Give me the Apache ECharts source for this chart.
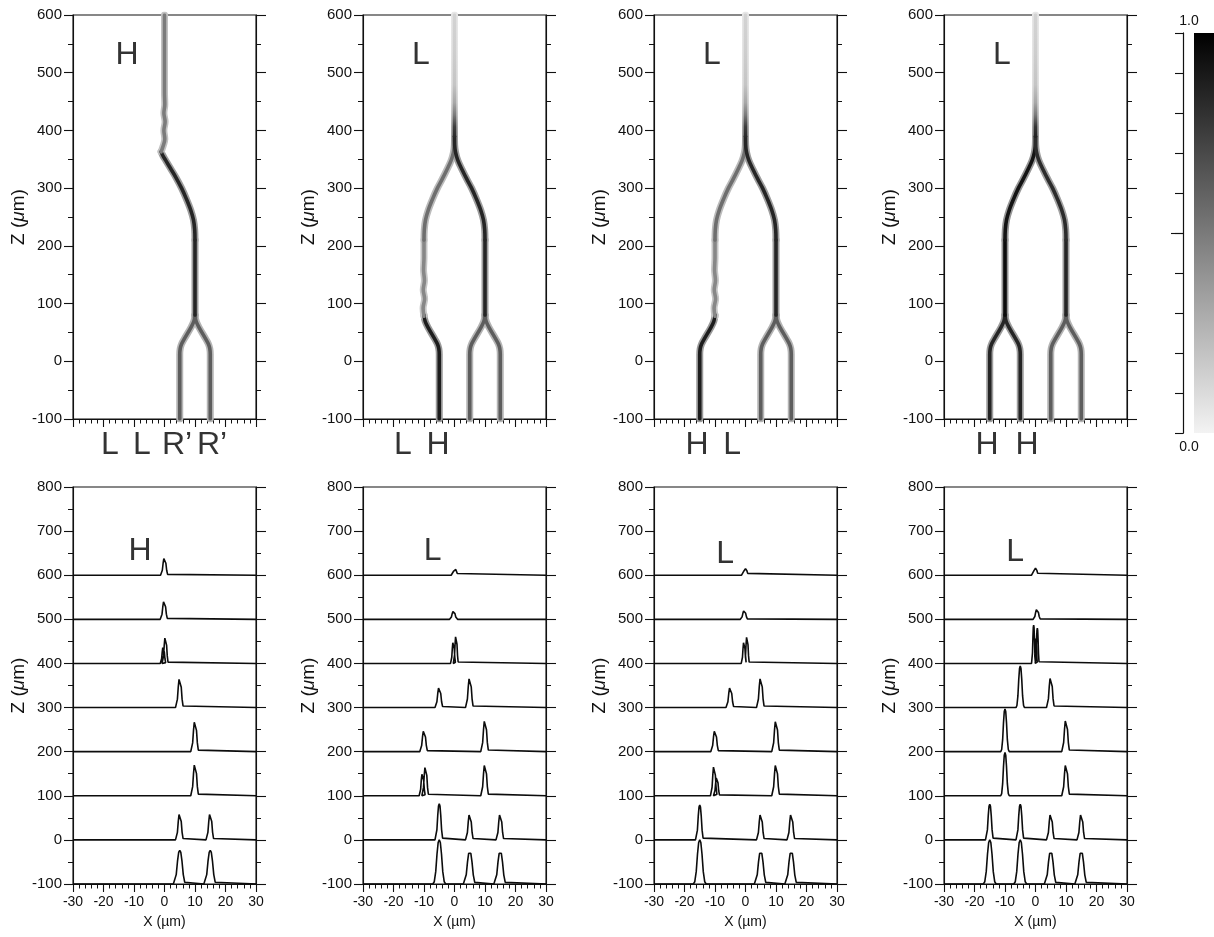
<!DOCTYPE html>
<html><head><meta charset="utf-8">
<script src="https://cdn.jsdelivr.net/npm/echarts@6/dist/echarts.min.js"></script>
<style>html,body{margin:0;padding:0;background:#fff}#c{width:1214px;height:937px}</style>
</head><body><div id="c"></div>
<script>
// ---------------- DATA ----------------
const X_MIN = -30, X_MAX = 30, X_STEP = 10;
const topZMin = -100, topZMax = 600;
const botZMin = -100, botZMax = 800;
const zStep = 100;
const profileBaselines = [-100, 0, 100, 200, 300, 400, 500, 600];

// waveguide centre-lines: [x (µm), z (µm)]
const armA = [[5,-100],[5,12],[5.15,22],[5.6,30],[6.4,38],[8.6,58],[9.6,69],[10,80]];
const armB = [[15,-100],[15,12],[14.85,22],[14.4,30],[13.6,38],[11.4,58],[10.4,69],[10,80]];
const armC = [[-5,-100],[-5,12],[-5.15,22],[-5.6,30],[-6.4,38],[-8.6,58],[-9.6,69],[-10,80]];
const armD = [[-15,-100],[-15,12],[-14.85,22],[-14.4,30],[-13.6,38],[-11.4,58],[-10.4,69],[-10,80]];
const midR = [[10,80],[10,130],[10,210]];
const midL = [[-10,80],[-10,130],[-10,210]];
const midLwavy = [[-10,78],[-10.3,92],[-9.8,108],[-10.25,124],[-9.85,140],[-10.15,158],[-10,180],[-10,210]];
const sBendR = [[10,210],[9.9,228],[9.5,245],[8.6,262],[7.2,281],[5.6,300],[4,316],[2.5,332],[1.1,348],[0.35,362],[0.05,375],[0,390]];
const sBendL = [[-10,210],[-9.9,228],[-9.5,245],[-8.6,262],[-7.2,281],[-5.6,300],[-4,316],[-2.5,332],[-1.1,348],[-0.35,362],[-0.05,375],[0,390]];
const sBendR1 = [[10,210],[9.9,228],[9.5,245],[8.6,262],[7.2,281],[5.6,300],[3.8,318],[2,334],[0.4,348],[-0.6,357],[-1.1,363]];
const outGuide = [[0,390],[0,410],[0,430],[0,450],[0,480],[0,540],[0,600]];
const outGuide1 = [[-1.1,363],[-0.5,372],[0.1,385],[-0.2,400],[0.2,415],[-0.2,430],[0.1,445],[0,465],[0,530],[0,600]];

// intensity (0..1) along each guide, per panel: [path, intensity (number or one value per point)]
const guidesP1 = [
  [armA, 0.62], [armB, 0.62], [midR, 0.85], [sBendR1, 0.85], [outGuide1, 0.5]
];
const guidesP2 = [
  [armC, 0.88], [midLwavy, 0.45], [sBendL, 0.55],
  [armA, 0.62], [armB, 0.62], [midR, 0.85], [sBendR, 0.85],
  [outGuide, [0.85,0.75,0.5,0.32,0.2,0.16,0.14]]
];
const guidesP3 = [
  [armD, 0.88], [midLwavy, 0.45], [sBendL, 0.55],
  [armA, 0.62], [armB, 0.62], [midR, 0.85], [sBendR, 0.85],
  [outGuide, [0.85,0.75,0.5,0.32,0.2,0.16,0.14]]
];
const guidesP4 = [
  [armC, 0.85], [armD, 0.85], [midL, 0.95], [sBendL, 0.92],
  [armA, 0.62], [armB, 0.62], [midR, 0.85], [sBendR, 0.82],
  [outGuide, [0.88,0.78,0.5,0.32,0.2,0.16,0.14]]
];

// intensity profiles, bottom row: per baseline, peaks [centre x, height (z units), half base width]
const profP1 = [
  [[5,76,2.1],[15,76,2.1]],
  [[5,61,1.4],[15,61,1.4]],
  [[10,74,1.4]],
  [[10,71,1.4]],
  [[5,68,1.4]],
  [[-0.4,38,1.0],[0.3,61,1.1]],
  [[-0.1,42,1.3]],
  [[0,40,1.3]]
];
const profP2 = [
  [[-5,100,2.1],[5,74,2.1],[15,74,2.1]],
  [[-5,82,1.4],[5,60,1.4],[15,60,1.4]],
  [[-10.5,52,1.1],[-9.5,68,1.2],[10,73,1.4]],
  [[-10,49,1.4],[10,73,1.4]],
  [[-5,47,1.4],[5,69,1.4]],
  [[-0.4,50,0.9],[0.5,64,0.9]],
  [[-0.3,19,1.3]],
  [[0.2,14,1.3]]
];
const profP3 = [
  [[-15,100,2.1],[5,74,2.1],[15,74,2.1]],
  [[-15,79,1.4],[5,60,1.4],[15,60,1.4]],
  [[-10.3,69,1.2],[-9.4,43,1.1],[10,73,1.4]],
  [[-10,49,1.4],[10,72,1.4]],
  [[-5,47,1.4],[5,69,1.4]],
  [[-0.5,50,0.9],[0.5,63,0.9]],
  [[-0.4,20,1.3]],
  [[0,15,1.3]]
];
const profP4 = [
  [[-15,100,2.1],[-5,100,2.1],[5,74,2.1],[15,74,2.1]],
  [[-15,81,1.4],[-5,81,1.4],[5,60,1.4],[15,60,1.4]],
  [[-10,98,1.4],[10,73,1.4]],
  [[-10,97,1.4],[10,74,1.4]],
  [[-5,94,1.4],[5,70,1.4]],
  [[-0.6,87,0.7],[0.1,60,0.6],[0.6,80,0.7]],
  [[0.5,23,1.3]],
  [[0,16,1.3]]
];
// peak outline: offsets (in half widths) and relative heights
const peakDx  = [-1, -0.78, -0.55, -0.35, -0.17, 0, 0.17, 0.35, 0.55, 0.78, 1];
const peakRel = [0, 0.05, 0.28, 0.68, 0.94, 1, 0.94, 0.68, 0.28, 0.05, 0];

// text labels
const topInputLabels = [
  [['L',-17.9],['L',-7.4],['R’',4.1],['R’',15.6]],
  [['L',-16.9],['H',-5.4]],
  [['H',-15.9],['L',-4.4]],
  [['H',-15.9],['H',-2.8]]
];
const topInputLabelZ = -145;
const topOutLabels = [['H',-12.3,531],['L',-11,530],['L',-11,530],['L',-11,530]];
const botOutLabels = [['H',-8,655],['L',-7.2,655],['L',-6.7,648],['L',-6.7,652]];
const colorbarMin = 0, colorbarMax = 1, colorbarStep = 0.1;
const colorbarLabels = ['0.0', '1.0'];

// ---------------- CHART ----------------
const FONT = "'Liberation Sans', Arial, Helvetica, sans-serif";
const INK = '#111';
const LEFTS = [73, 363, 654, 944], PW = 183;
const ROWS = [{top: 15, h: 404}, {top: 487, h: 397}];
const allGuides = [guidesP1, guidesP2, guidesP3, guidesP4];
const allProfiles = [profP1, profP2, profP3, profP4];

function gray(I) { const v = Math.round(245 * (1 - I)); return 'rgb(' + v + ',' + v + ',' + v + ')'; }

const grids = [], xAxes = [], yAxes = [], series = [];
const lineStyle = {color: INK, width: 1.1};

for (let r = 0; r < 2; r++) for (let c = 0; c < 4; c++) {
  const gi = r * 4 + c;
  grids.push({left: LEFTS[c], top: ROWS[r].top, width: PW, height: ROWS[r].h,
    show: true, borderColor: INK, borderWidth: 1.1, backgroundColor: 'transparent'});
  xAxes.push({gridIndex: gi, type: 'value', min: X_MIN, max: X_MAX, interval: X_STEP, position: 'bottom',
    axisLine: {show: true, onZero: false, lineStyle},
    axisTick: {show: true, inside: false, length: 8, lineStyle},
    minorTick: {show: true, splitNumber: 5, length: 4.5, lineStyle: {color: INK, width: 1}},
    axisLabel: {show: r === 1, fontSize: 14, color: INK, margin: 11, fontFamily: FONT},
    splitLine: {show: false}, minorSplitLine: {show: false},
    name: r === 1 ? 'X (µm)' : '', nameLocation: 'middle', nameGap: 31,
    nameTextStyle: {fontSize: 14, color: INK, fontFamily: FONT}});
  const zmin = r === 0 ? topZMin : botZMin, zmax = r === 0 ? topZMax : botZMax;
  yAxes.push({gridIndex: gi, type: 'value', min: zmin, max: zmax, interval: zStep, position: 'left',
    axisLine: {show: true, onZero: false, lineStyle},
    axisTick: {show: true, inside: false, length: 9, lineStyle},
    minorTick: {show: true, splitNumber: 2, length: 5, lineStyle: {color: INK, width: 1}},
    axisLabel: {show: true, fontSize: 15, color: INK, margin: 11, fontFamily: FONT},
    splitLine: {show: false}, minorSplitLine: {show: false},
    name: 'Z ({mu|μ}m)', nameLocation: 'middle', nameGap: 45, nameRotate: 90,
    nameTextStyle: {fontSize: 19, color: INK, fontFamily: FONT,
      rich: {mu: {fontStyle: 'italic', fontSize: 19, color: INK, fontFamily: FONT}}}});
  yAxes.push({gridIndex: gi, type: 'value', min: zmin, max: zmax, interval: zStep, position: 'right',
    axisLine: {show: true, onZero: false, lineStyle},
    axisTick: {show: true, inside: false, length: 10, lineStyle},
    minorTick: {show: true, splitNumber: 2, length: 5, lineStyle: {color: INK, width: 1}},
    axisLabel: {show: false}, splitLine: {show: false}, minorSplitLine: {show: false}});
}

// top row: waveguide intensity maps (each guide = soft opaque halo underneath + darker core on top)
function guideColor(pts, lv, k) {
  if (Array.isArray(lv)) {
    const zs = pts.map(p => p[1]);
    const zTop = Math.max(...zs), zBot = Math.min(...zs);
    return new echarts.graphic.LinearGradient(0, 0, 0, 1,
      pts.map((p, i) => ({offset: (zTop - p[1]) / (zTop - zBot), color: gray(lv[i] * k)})));
  }
  return gray(lv * k);
}
allGuides.forEach((branches, c) => {
  branches.forEach(([pts, lv]) => {
    [[7, 0.42, 2], [3.6, 1, 3]].forEach(([w, k, zz]) => {
      series.push({type: 'line', xAxisIndex: c, yAxisIndex: c * 2, data: pts, symbol: 'none',
        smooth: 0.35, silent: true, z: zz, clip: true,
        lineStyle: {color: guideColor(pts, lv, k), width: w, opacity: 1, cap: 'round', join: 'round'}});
    });
  });
});

// bottom row: profiles
allProfiles.forEach((prof, c) => {
  const gi = 4 + c;
  prof.forEach((peaks, k) => {
    const z0 = profileBaselines[k];
    const pts = [[X_MIN, z0]];
    peaks.slice().sort((p, q) => p[0] - q[0]).forEach(([cx, h, w]) => {
      peakDx.forEach((d, j) => pts.push([cx + d * w, z0 + h * peakRel[j]]));
    });
    pts.push([X_MAX, z0]);
    series.push({type: 'line', xAxisIndex: gi, yAxisIndex: gi * 2, data: pts, symbol: 'none',
      silent: true, z: 3, lineStyle: {color: '#0c0c0c', width: 1.6}});
  });
});

// text labels drawn at data positions
function labelSeries(gi, items) {
  return {type: 'scatter', xAxisIndex: gi, yAxisIndex: gi * 2, clip: false, symbolSize: 1, silent: true, z: 5,
    itemStyle: {color: 'rgba(0,0,0,0)'},
    label: {show: true, position: 'inside', fontSize: 32, color: '#000', fontFamily: FONT},
    data: items.map(([t, x, z]) => ({value: [x, z], label: {formatter: t}}))};
}
topInputLabels.forEach((arr, c) => series.push(labelSeries(c, arr.map(([t, x]) => [t, x, topInputLabelZ]))));
topOutLabels.forEach((l, c) => series.push(labelSeries(c, [l])));
botOutLabels.forEach((l, c) => series.push(labelSeries(4 + c, [l])));

// colour bar
grids.push({left: 1194, top: 33, width: 40, height: 400, show: false});
xAxes.push({gridIndex: 8, type: 'category', data: ['I'], show: false});
yAxes.push({gridIndex: 8, type: 'value', min: colorbarMin, max: colorbarMax, interval: colorbarStep,
  position: 'left', offset: 11,
  axisLine: {show: true, lineStyle}, axisTick: {show: true, inside: false, length: 8, lineStyle},
  axisLabel: {show: false}, splitLine: {show: false},
  name: colorbarLabels[1], nameLocation: 'end', nameGap: 5,
  nameTextStyle: {fontSize: 14, color: INK, fontFamily: FONT, align: 'center', padding: [0, 0, 0, 12]}});
yAxes.push({gridIndex: 8, type: 'value', min: colorbarMin, max: colorbarMax, interval: colorbarStep,
  position: 'left', offset: 11,
  axisLine: {show: true, lineStyle}, axisTick: {show: true, inside: false, length: 12, lineStyle, customValues: [0.5]},
  axisLabel: {show: false}, splitLine: {show: false},
  name: colorbarLabels[0], nameLocation: 'start', nameGap: 7,
  nameTextStyle: {fontSize: 14, color: INK, fontFamily: FONT, align: 'center', verticalAlign: 'top', padding: [0, 0, 0, 12]}});
series.push({type: 'bar', xAxisIndex: 8, yAxisIndex: 16, data: [colorbarMax], barWidth: '100%', silent: true,
  itemStyle: {color: new echarts.graphic.LinearGradient(0, 0, 0, 1,
    [{offset: 0, color: '#000'}, {offset: 0.5, color: '#7a7a7a'}, {offset: 1, color: '#f3f3f3'}])}});

const chart = echarts.init(document.getElementById('c'), null, {renderer: 'canvas', width: 1214, height: 937});
chart.setOption({animation: false, backgroundColor: '#fff', grid: grids, xAxis: xAxes, yAxis: yAxes, series});
</script></body></html>
